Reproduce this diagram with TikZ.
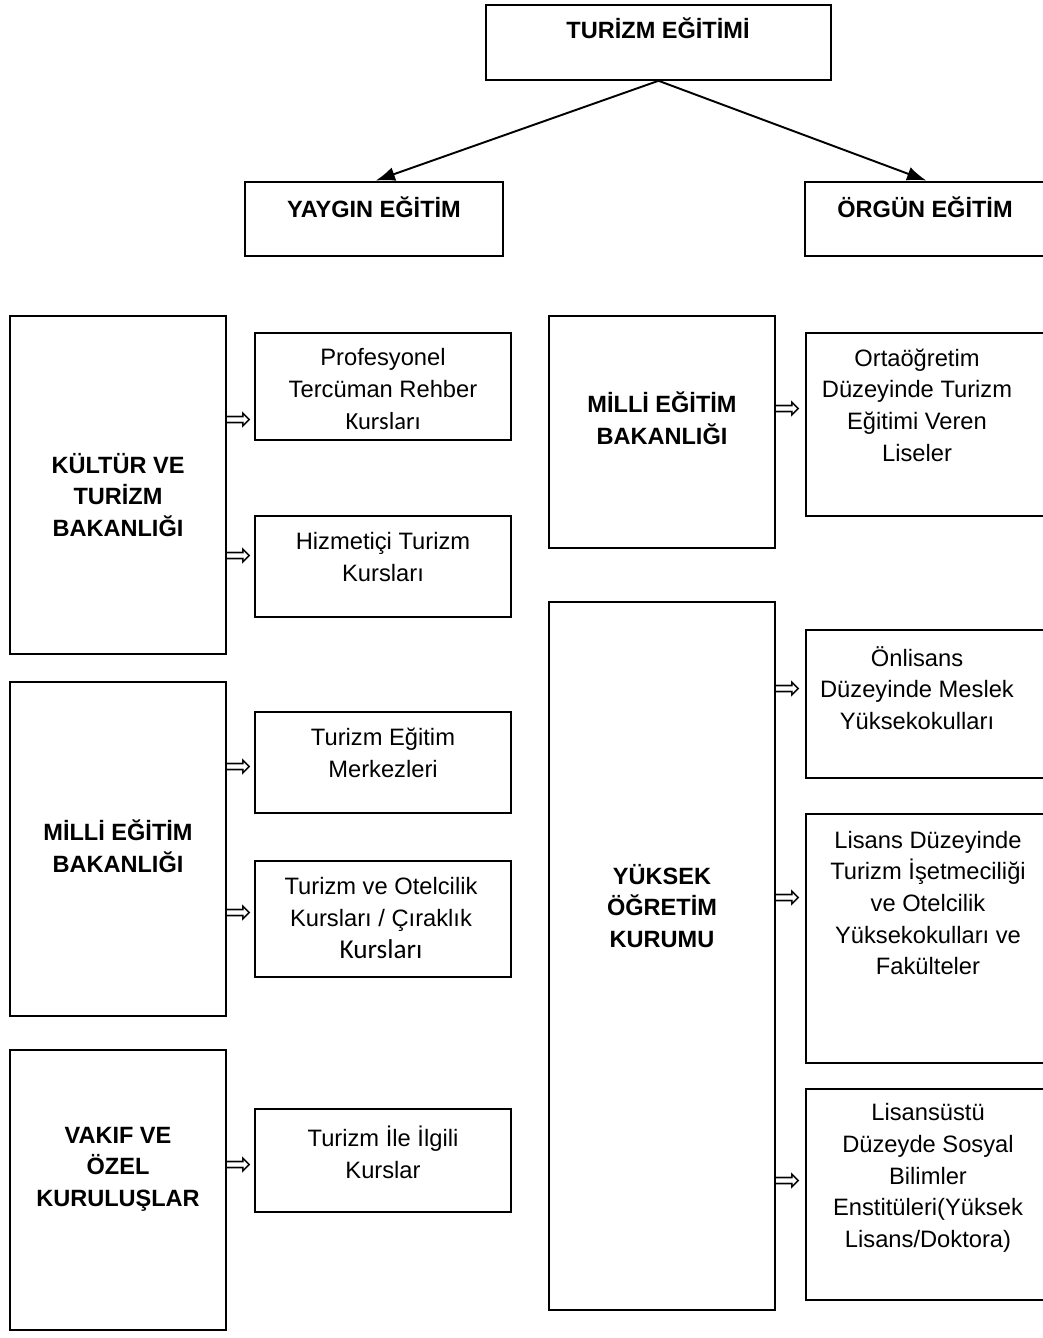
\documentclass[tikz,border=0pt]{standalone}
\usepackage{fontspec}
\setmainfont{Liberation Sans}
\newfontfamily\calibrifont{Carlito}
\newfontfamily\dvsans{DejaVu Sans}
\usetikzlibrary{arrows.meta,fit}
\tikzset{
    every node/.style={font=\fontsize{13.5}{18}\selectfont},
    box/.style={draw, rectangle, line width=0.9pt, inner sep=0pt},
    head/.style={align=center, font=\fontsize{13.4}{18}\selectfont\bfseries},
    txt/.style={align=center},
    harrow/.style={inner sep=0pt, font=\dvsans\fontsize{19}{19}\selectfont}
}
\tikzset{
    branch/.style={line width=1.1pt, -{Latex[length=11pt,width=8pt]}, shorten >=1pt}
}

\begin{document}
\begin{tikzpicture}[x=0.02cm, y=-0.02cm]
	\useasboundingbox (0,0) rectangle (1043,1338);

	% top level
	\node (tur) [box, fit={(486,5) (831,80)}] {};
	\node (tur-t) [head] at (658,28) {TURİZM EĞİTİMİ};
	\node (yay) [box, fit={(245,182) (503,256)}] {};
	\node (yay-t) [head] at (374,207) {YAYGIN EĞİTİM};
	\node (org) [box, fit={(805,182) (1046,256)}] {};
	\node (org-t) [head] at (925,207) {ÖRGÜN EĞİTİM};

	\draw [branch] (tur.south) -- (yay.north);
	\draw [branch] (tur.south) -- (org.north -| 928,0);

	% yaygin egitim
	\node (ktb) [box, fit={(10,316) (226,654)}] {};
	\node (ktb-t) [head] at (118,495) {KÜLTÜR VE\\TURİZM\\BAKANLIĞI};
	\node (prof) [box, fit={(255,333) (511,440)}] {};
	\node (prof-t) [txt] at (383,389) {Profesyonel\\Tercüman Rehber\\{\calibrifont\fontsize{14}{18}\selectfont Kursları}};
	\node (hiz) [box, fit={(255,516) (511,617)}] {};
	\node (hiz-t) [txt] at (383,557) {Hizmetiçi Turizm\\Kursları};
	\node (a1) [harrow] at (238,421) {⇨};
	\node (a2) [harrow] at (238,557) {⇨};

	\node (meb1) [box, fit={(10,682) (226,1016)}] {};
	\node (meb1-t) [head] at (118,846) {MİLLİ EĞİTİM\\BAKANLIĞI};
	\node (tem) [box, fit={(255,712) (511,813)}] {};
	\node (tem-t) [txt] at (383,753) {Turizm Eğitim\\Merkezleri};
	\node (oto) [box, fit={(255,861) (511,977)}] {};
	\node (oto-t) [txt] at (381,918) {Turizm ve Otelcilik\\Kursları / Çıraklık\\{\calibrifont\fontsize{15.5}{20}\selectfont Kursları}};
	\node (a3) [harrow] at (238,768) {⇨};
	\node (a4) [harrow] at (238,914) {⇨};

	\node (vak) [box, fit={(10,1050) (226,1330)}] {};
	\node (vak-t) [head] at (118,1169) {VAKIF VE\\ÖZEL\\KURULUŞLAR};
	\node (ile) [box, fit={(255,1109) (511,1212)}] {};
	\node (ile-t) [txt] at (383,1152) {Turizm İle İlgili\\Kurslar};
	\node (a5) [harrow] at (238,1166) {⇨};

	% orgun egitim
	\node (meb2) [box, fit={(549,316) (775,548)}] {};
	\node (meb2-t) [head] at (662,418) {MİLLİ EĞİTİM\\BAKANLIĞI};
	\node (lis) [box, fit={(806,333) (1046,516)}] {};
	\node (lis-t) [txt] at (917,405) {Ortaöğretim\\Düzeyinde Turizm\\Eğitimi Veren\\Liseler};
	\node (a6) [harrow] at (787,410) {⇨};

	\node (yok) [box, fit={(549,602) (775,1310)}] {};
	\node (yok-t) [head] at (662,906) {YÜKSEK\\ÖĞRETİM\\KURUMU};
	\node (onl) [box, fit={(806,630) (1046,778)}] {};
	\node (onl-t) [txt] at (917,688) {Önlisans\\Düzeyinde Meslek\\Yüksekokulları};
	\node (lsn) [box, fit={(806,814) (1046,1063)}] {};
	\node (lsn-t) [txt] at (928,903) {Lisans Düzeyinde\\Turizm İşetmeciliği\\ve Otelcilik\\Yüksekokulları ve\\Fakülteler};
	\node (lsu) [box, fit={(806,1089) (1046,1300)}] {};
	\node (lsu-t) [txt] at (928,1178) {Lisansüstü\\Düzeyde Sosyal\\Bilimler\\Enstitüleri(Yüksek\\Lisans/Doktora)};
	\node (a7) [harrow] at (787,690) {⇨};
	\node (a8) [harrow] at (787,899) {⇨};
	\node (a9) [harrow] at (787,1182) {⇨};
\end{tikzpicture}
\end{document}
